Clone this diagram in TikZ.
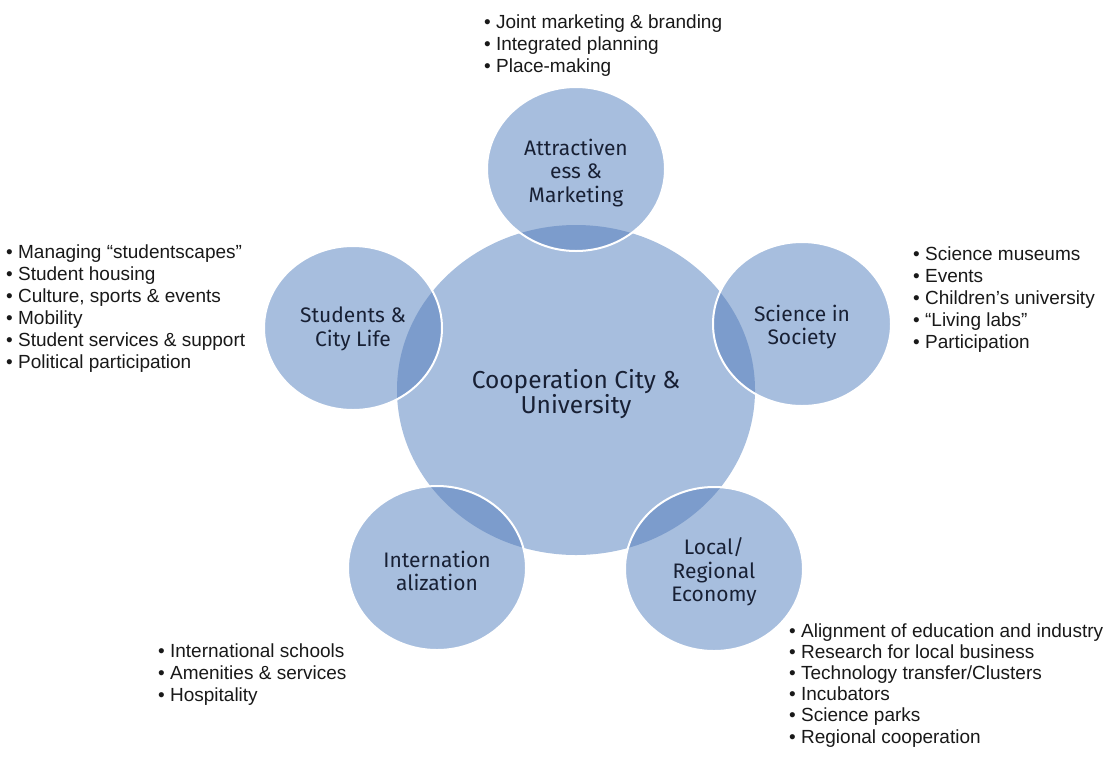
\documentclass[tikz,border=0pt]{standalone}
\usepackage{fontspec}
\setmainfont{Liberation Sans}
\newfontfamily\circfont{Fira Sans}
\usetikzlibrary{shapes.geometric}
\definecolor{lightb}{RGB}{167,190,222}
\definecolor{darkb}{RGB}{124,156,204}
\definecolor{navy}{RGB}{24,32,52}
\definecolor{txt}{RGB}{25,25,25}
\newcommand\blist[1]{{\fontsize{19}{22}\selectfont\begin{tabular}[t]{@{}l@{}}#1\end{tabular}}}
\tikzset{
  bigc/.style={ellipse, fill=lightb, inner sep=0pt, minimum width=358pt, minimum height=330pt},
  smallc/.style={ellipse, fill=lightb, inner sep=0pt, minimum width=178pt, minimum height=164pt},
  bigtext/.style={align=center, inner sep=0pt, text=navy, font=\circfont\fontsize{24.5}{25}\selectfont},
  smalltext/.style={align=center, inner sep=0pt, text=navy, font=\circfont\fontsize{21}{23.5}\selectfont},
  blistnode/.style={anchor=base west, inner sep=0pt, text=txt},
}
\begin{document}
\begin{tikzpicture}[x=1pt, y=-1pt]
\fill[white] (0,0) rectangle (1105,756);
\useasboundingbox (0,0) rectangle (1105,756);

\node[bigc] (coop) at (576,390) {};

\node[smallc] (att) at (576,169) {};
\node[smallc] (stu) at (353,328) {};
\node[smallc] (sci) at (802,324) {};
\node[smallc] (loc) at (714,569) {};
\node[smallc] (int) at (437,568) {};

\foreach \n in {att,stu,sci,loc,int} {
  \begin{scope}
    \clip (\n.center) ellipse [x radius=89pt, y radius=82pt];
    \fill[darkb] (coop.center) ellipse [x radius=179pt, y radius=165pt];
  \end{scope}
  \draw[white, line width=2pt] (\n.center) ellipse [x radius=89pt, y radius=82pt];
}

\node[bigtext] (coopT) at ([yshift=-4pt]coop.center) {Cooperation City \&\\University};
\node[smalltext] (attT) at ([yshift=-4pt]att.center) {Attractiven\\ess \&\\Marketing};
\node[smalltext] (stuT) at ([yshift=-1pt]stu.center) {Students \&\\City Life};
\node[smalltext] (sciT) at ([yshift=-3pt]sci.center) {Science in\\Society};
\node[smalltext] (locT) at ([yshift=-3pt]loc.center) {Local/\\Regional\\Economy};
\node[smalltext] (intT) at ([yshift=-3pt]int.center) {Internation\\alization};

\node[blistnode] (latt) at (484,28) {\blist{• Joint marketing \& branding\\• Integrated planning\\• Place-making}};
\node[blistnode] (lstu) at (6,258) {\blist{• Managing “studentscapes”\\• Student housing\\• Culture, sports \& events\\• Mobility\\• Student services \& support\\• Political participation}};
\node[blistnode] (lsci) at (913,260) {\blist{• Science museums\\• Events\\• Children’s university\\• “Living labs”\\• Participation}};
\node[blistnode] (lint) at (158,657) {\blist{• International schools\\• Amenities \& services\\• Hospitality}};
\node[blistnode] (lloc) at (789,637) {\fontsize{19}{21.2}\selectfont\begin{tabular}[t]{@{}l@{}}• Alignment of education and industry\\• Research for local business\\• Technology transfer/Clusters\\• Incubators\\• Science parks\\• Regional cooperation\end{tabular}};
\end{tikzpicture}
\end{document}
